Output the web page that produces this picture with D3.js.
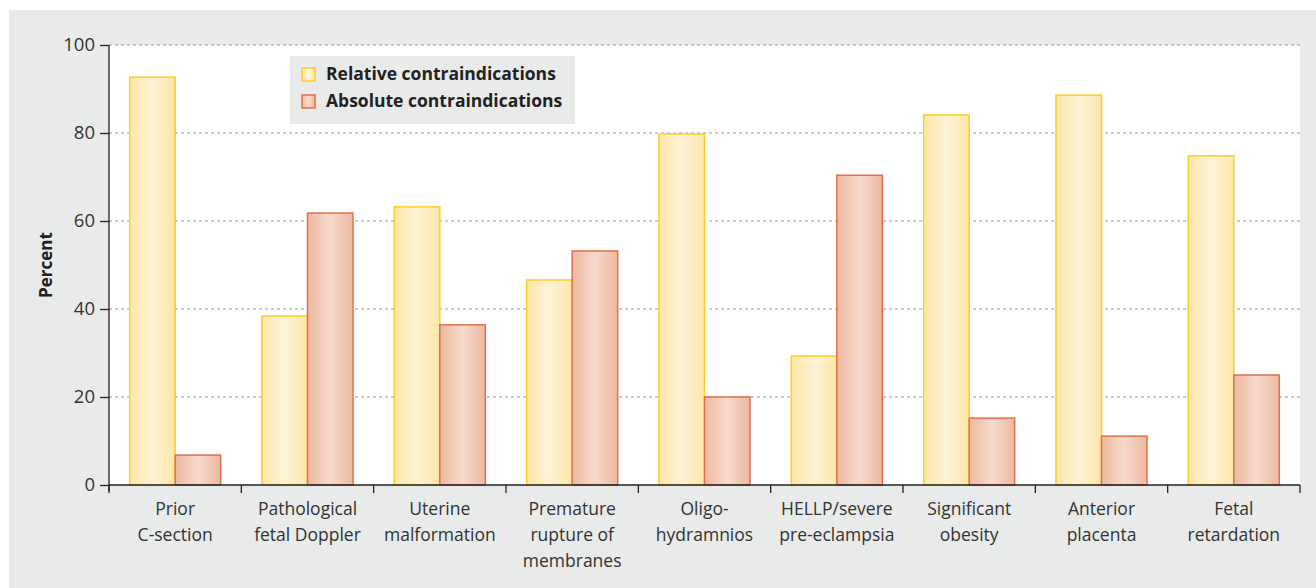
<!DOCTYPE html>
<html>
<head>
<meta charset="utf-8">
<script src="https://cdn.jsdelivr.net/npm/d3@7"></script>
<style>
  body { margin: 0; background: #fff; }
  text { font-family: "Open Sans", sans-serif; }
</style>
</head>
<body>
<div id="chart_area"></div>
<script>
// categories (multi-line labels)
var categories = [
    ["Prior", "C-section"],
    ["Pathological", "fetal Doppler"],
    ["Uterine", "malformation"],
    ["Premature", "rupture of", "membranes"],
    ["Oligo-", "hydramnios"],
    ["HELLP/severe", "pre-eclampsia"],
    ["Significant", "obesity"],
    ["Anterior", "placenta"],
    ["Fetal", "retardation"]
];
var relative = [92.7, 38.4, 63.2, 46.6, 79.8, 29.3, 84.1, 88.6, 74.8];
var absolute = [6.8, 61.8, 36.4, 53.2, 20.0, 70.4, 15.2, 11.1, 25.0];
var yTicks = [0, 20, 40, 60, 80, 100];
var seriesNames = ["Relative contraindications", "Absolute contraindications"];

var W = 1316, H = 588;
var margin = { top: 45, right: 16, bottom: 103, left: 109 },
    width = W - margin.left - margin.right,
    height = H - margin.top - margin.bottom;

var svg = d3.select("#chart_area")
    .append("svg")
    .attr("width", W)
    .attr("height", H);

// gradients for bars
var defs = svg.append("defs");
function grad(id, edge, mid) {
    var g = defs.append("linearGradient").attr("id", id)
        .attr("x1", "0%").attr("x2", "100%").attr("y1", "0%").attr("y2", "0%");
    g.append("stop").attr("offset", "0%").attr("stop-color", edge);
    g.append("stop").attr("offset", "50%").attr("stop-color", mid);
    g.append("stop").attr("offset", "100%").attr("stop-color", edge);
}
grad("gRel", "#fde6a8", "#fef3d6");
grad("gAbs", "#eeb8a0", "#f5dacc");

// gray background
svg.append("rect")
    .attr("x", 9).attr("y", 10)
    .attr("width", W - 9).attr("height", H - 10)
    .attr("fill", "#e9eaea");

var g = svg.append("g")
    .attr("transform", "translate(" + margin.left + "," + margin.top + ")");

// white plot area
g.append("rect")
    .attr("width", width).attr("height", height)
    .attr("fill", "#fff");

var x = d3.scaleBand()
    .domain(d3.range(categories.length))
    .range([0, width]);

var xSub = d3.scaleBand()
    .domain([0, 1])
    .range([0, x.bandwidth()])
    .paddingOuter(0.454)
    .paddingInner(0);

var y = d3.scaleLinear()
    .domain([0, 100])
    .range([height, 0]);

// grid lines
g.selectAll("line.grid")
    .data(yTicks.filter(function (d) { return d > 0; }))
    .enter()
    .append("line")
    .attr("class", "grid")
    .attr("x1", 0).attr("x2", width)
    .attr("y1", function (d) { return y(d); })
    .attr("y2", function (d) { return y(d); })
    .attr("stroke", "#999")
    .attr("stroke-width", 1)
    .attr("stroke-dasharray", "3,3");

// bars
var groups = g.selectAll("g.cat")
    .data(categories)
    .enter()
    .append("g")
    .attr("class", "cat")
    .attr("transform", function (d, i) { return "translate(" + x(i) + ",0)"; });

groups.append("rect")
    .attr("x", xSub(0))
    .attr("width", xSub.bandwidth())
    .attr("y", function (d, i) { return y(relative[i]); })
    .attr("height", function (d, i) { return height - y(relative[i]); })
    .attr("fill", "url(#gRel)")
    .attr("stroke", "#fbcf25")
    .attr("stroke-width", 1.5);

groups.append("rect")
    .attr("x", xSub(1))
    .attr("width", xSub.bandwidth())
    .attr("y", function (d, i) { return y(absolute[i]); })
    .attr("height", function (d, i) { return height - y(absolute[i]); })
    .attr("fill", "url(#gAbs)")
    .attr("stroke", "#e0704e")
    .attr("stroke-width", 1.5);

// Y axis
var yAxis = g.append("g")
    .call(d3.axisLeft(y).tickValues(yTicks).tickSize(9).tickPadding(5));
yAxis.select(".domain").attr("stroke", "#222").attr("stroke-width", 1.3)
    .attr("d", "M0," + (height + 6) + "V0");
yAxis.selectAll(".tick line").attr("stroke", "#222").attr("stroke-width", 1.3);
yAxis.selectAll("text")
    .attr("fill", "#333")
    .style("font-size", "18.5px");

// X axis
var xTickPos = d3.range(categories.length + 1).map(function (i) { return i * x.step(); });
var xAxis = g.append("g")
    .attr("transform", "translate(0," + height + ")");
xAxis.append("line")
    .attr("x1", 0).attr("x2", width)
    .attr("stroke", "#222").attr("stroke-width", 1.3);
xAxis.selectAll("line.tk")
    .data(xTickPos)
    .enter()
    .append("line")
    .attr("class", "tk")
    .attr("x1", function (d) { return d; })
    .attr("x2", function (d) { return d; })
    .attr("y1", 0).attr("y2", 8)
    .attr("stroke", "#222").attr("stroke-width", 1.3);

var labels = xAxis.selectAll("text.lab")
    .data(categories)
    .enter()
    .append("text")
    .attr("class", "lab")
    .attr("text-anchor", "middle")
    .attr("fill", "#333")
    .style("font-size", "17.5px")
    .attr("transform", function (d, i) { return "translate(" + (x(i) + x.bandwidth() / 2) + ",30)"; });
labels.selectAll("tspan")
    .data(function (d) { return d; })
    .enter()
    .append("tspan")
    .attr("x", 0)
    .attr("y", function (d, j) { return j * 26; })
    .text(function (d) { return d; });

// Y label
g.append("text")
    .attr("transform", "translate(-57," + (height / 2) + ")rotate(-90)")
    .attr("text-anchor", "middle")
    .attr("fill", "#222")
    .style("font-size", "17px")
    .style("font-weight", "bold")
    .text("Percent");

// legend
var legend = svg.append("g").attr("transform", "translate(290,56)");
legend.append("rect")
    .attr("width", 285).attr("height", 68)
    .attr("fill", "#e9eaea");
var legFills = ["url(#gRel)", "url(#gAbs)"];
var legStrokes = ["#fbcf25", "#e0704e"];
var items = legend.selectAll("g.item")
    .data(seriesNames)
    .enter()
    .append("g")
    .attr("class", "item")
    .attr("transform", function (d, i) { return "translate(12," + (12 + i * 27) + ")"; });
items.append("rect")
    .attr("width", 13).attr("height", 13)
    .attr("fill", function (d, i) { return legFills[i]; })
    .attr("stroke", function (d, i) { return legStrokes[i]; })
    .attr("stroke-width", 1.5);
items.append("text")
    .attr("x", 24).attr("y", 12)
    .attr("fill", "#222")
    .style("font-size", "17.5px")
    .style("font-weight", "bold")
    .text(function (d) { return d; });
</script>
</body>
</html>
